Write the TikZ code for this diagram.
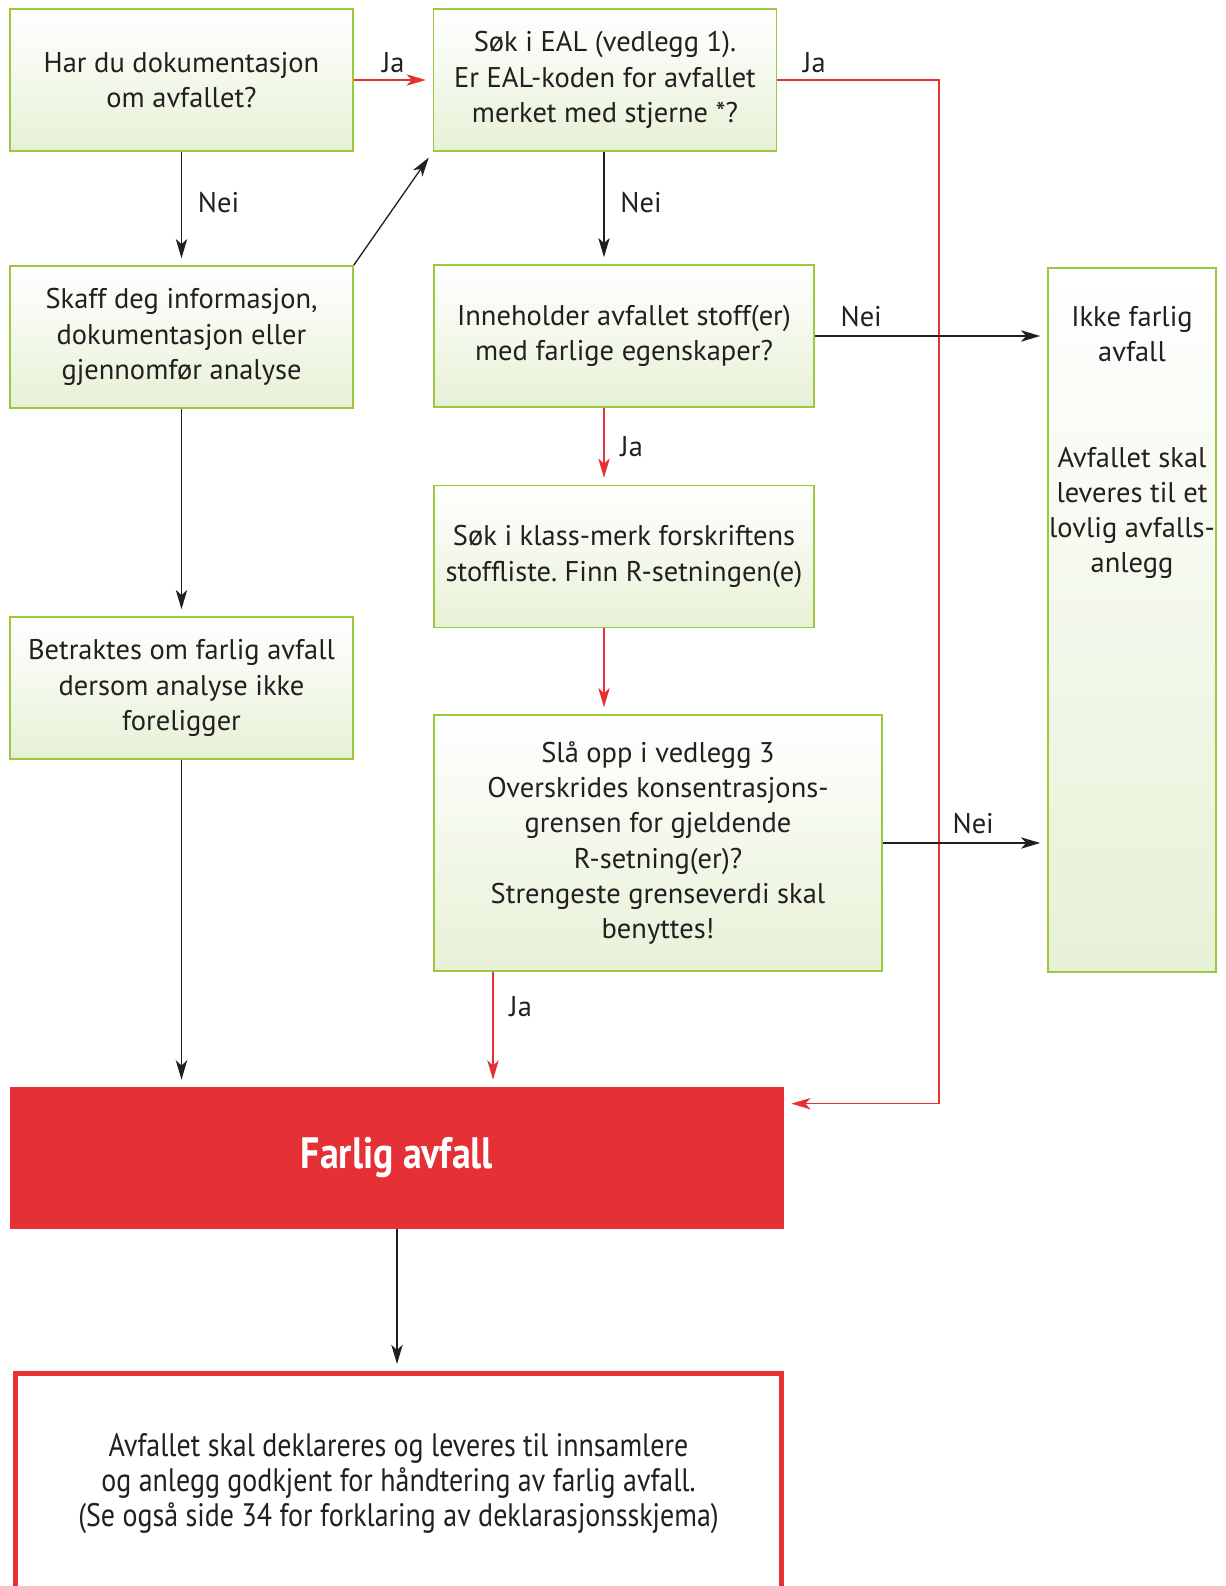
\documentclass[tikz,border=0pt]{standalone}
\usepackage{fontspec}
\setmainfont{PT Sans}
\newfontfamily\narrowfont[FakeStretch=0.86]{PT Sans}
\usetikzlibrary{arrows.meta, positioning}
\definecolor{boxgreen}{HTML}{9BC93D}
\definecolor{boxfill}{HTML}{E7F1D6}
\definecolor{alarmred}{HTML}{E53135}
\definecolor{txtgray}{HTML}{231F20}
\frenchspacing

\begin{document}
\begin{tikzpicture}[
        x=0.02cm, y=-0.02cm,
        font=\fontsize{16.2}{20}\selectfont,
        question/.style={rectangle, draw=boxgreen, line width=0.85pt, top color=white, bottom color=boxfill, text=txtgray, align=center, inner sep=0pt, minimum width=6.86cm, minimum height=2.84cm},
        farlig/.style={rectangle, fill=alarmred, text=white, inner sep=0pt, minimum width=15.48cm, minimum height=2.84cm, font=\narrowfont\bfseries\fontsize{25}{28}\selectfont},
        leveres/.style={rectangle, draw=alarmred, line width=2.8pt, fill=white, text=txtgray, align=center, inner sep=0pt, minimum width=15.32cm, minimum height=4.4cm, font=\narrowfont\fontsize{18.5}{20}\selectfont},
        answer/.style={text=txtgray, inner sep=0pt},
        yes/.style={-{Stealth[length=11pt, width=6.5pt, inset=3pt]}, alarmred, line width=0.75pt, shorten >=4pt},
        no/.style={-{Stealth[length=11pt, width=6.5pt, inset=3pt]}, txtgray, line width=0.75pt, shorten >=4pt},
    ]
        \useasboundingbox (0,0) rectangle (1225,1586);

        \node[question] (har) at (181.5,80) {Har du dokumentasjon\\om avfallet?};
        \node[question] (eal) at (605,80) {Søk i EAL (vedlegg 1).\\Er EAL-koden for avfallet\\merket med stjerne *?};
        \node[question] (skaff) at (181.5,337) {Skaff deg informasjon,\\dokumentasjon eller\\gjennomfør analyse};
        \node[question, minimum width=7.6cm] (inneholder) at (624,336) {Inneholder avfallet stoff(er)\\med farlige egenskaper?};
        \node[question, minimum width=7.6cm] (klass) at (624,556.5) {Søk i klass-merk forskriftens\\stoffliste. Finn R-setningen(e)};
        \node[question] (betraktes) at (181.5,688) {Betraktes om farlig avfall\\dersom analyse ikke\\foreligger};
        \node[question, minimum width=8.96cm, minimum height=5.12cm] (slaopp) at (658,843) {Slå opp i vedlegg 3\\Overskrides konsentrasjons-\\grensen for gjeldende\\R-setning(er)?\\Strengeste grenseverdi skal\\benyttes!};
        \node[question, minimum width=3.36cm, minimum height=14.08cm] (ikke) at (1132,620) {};
        \node[answer, anchor=north, align=center] (ikketekst) at ([yshift=-0.78cm]ikke.north) {Ikke farlig\\avfall\\[40pt]Avfallet skal\\leveres til et\\lovlig avfalls-\\anlegg};
        \node[farlig] (farligavfall) at (397,1158) {Farlig avfall};
        \node[leveres] (leveransen) at (398.5,1483.5) {Avfallet skal deklareres og leveres til innsamlere\\og anlegg godkjent for håndtering av farlig avfall.\\(Se også side 34 for forklaring av deklarasjonsskjema)};

        \coordinate (colB) at (604,0);
        \coordinate (colC) at (493,0);
        \coordinate (colR) at (939,0);

        \draw[yes] (har.east) -- node[answer, above=4pt] {Ja} (eal.west);
        \draw[no] (har.south) -- node[answer, right=9pt, pos=0.45] {Nei} (skaff.north);
        \draw[no] (skaff.north east) -- (eal.south west);
        \draw[no] (eal.south -| colB) -- node[answer, right=9pt, pos=0.45] {Nei} (inneholder.north -| colB);
        \draw[yes] (eal.east) -- node[answer, above=4pt, pos=0.23] {Ja} (eal.east -| colR) |- ([yshift=-0.34cm]farligavfall.north east);
        \draw[no] (inneholder.east) -- node[answer, above=5pt, pos=0.2] {Nei} (inneholder.east -| ikke.west);
        \draw[yes] (inneholder.south -| colB) -- node[answer, right=9pt] {Ja} (klass.north -| colB);
        \draw[yes] (klass.south -| colB) -- (slaopp.north -| colB);
        \draw[no] (slaopp.east) -- node[answer, above=5pt, pos=0.55] {Nei} (slaopp.east -| ikke.west);
        \draw[yes] (slaopp.south -| colC) -- node[answer, right=9pt, pos=0.3] {Ja} (farligavfall.north -| colC);
        \draw[no] (skaff.south) -- (betraktes.north);
        \draw[no] (betraktes.south) -- (farligavfall.north -| betraktes.south);
        \draw[no] (farligavfall.south) -- (farligavfall.south |- leveransen.north);
\end{tikzpicture}
\end{document}
